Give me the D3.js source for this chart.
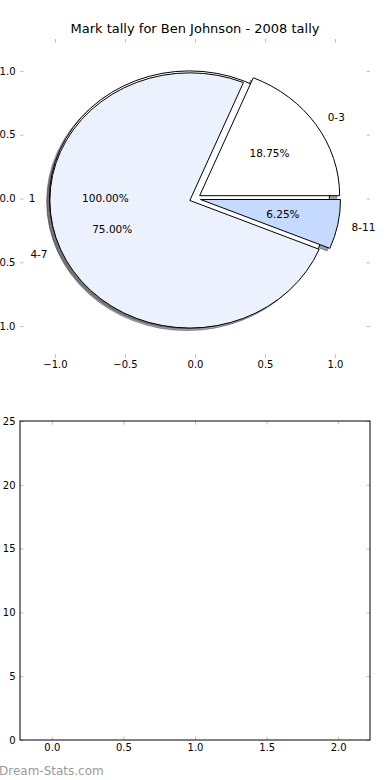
<!DOCTYPE html>
<html>
<head>
<meta charset="utf-8">
<script src="https://cdn.jsdelivr.net/npm/d3@7"></script>
<style>
  body { margin: 0; background: #fff; }
  svg { display: block; font-family: "DejaVu Sans", sans-serif; }
  .tick line { stroke: #bdbdbd; }
</style>
</head>
<body>
<script>
// pie data
var sliceLabels = ["0-3", "4-7", "8-11"];
var sliceValues = [3, 12, 1];
var sliceColors = ["#ffffff", "#ebf1fd", "#c6d9fe"];
// the single-value pie drawn underneath
var baseLabels = ["1"];
var baseValues = [1];
var baseColors = ["#ffffff"];

var pieTicks = [-1, -0.5, 0, 0.5, 1];
var barXTicks = [0, 0.5, 1, 1.5, 2];
var barYTicks = [0, 5, 10, 15, 20, 25];

var width = 390, height = 780;
var explode = 0.04, shadowOff = 0.02;

var svg = d3.select("body").append("svg")
  .attr("width", width)
  .attr("height", height);

// ---------- top: pie ----------
var x1 = d3.scaleLinear().domain([-1.25, 1.25]).range([20, 370]);
var y1 = d3.scaleLinear().domain([-1.25, 1.25]).range([358, 39]);

function ticks(g, axis) {
  g.call(axis);
  g.select(".domain").remove();
  g.selectAll("text").attr("fill", "#000").style("font-size", "10px").style("font-family", "DejaVu Sans");
}

svg.append("g").attr("transform", "translate(0,358)")
  .call(ticks, d3.axisBottom(x1).tickValues(pieTicks).tickSize(-3.5).tickPadding(3).tickFormat(d3.format(".1f")));
svg.append("g").attr("transform", "translate(0,39)")
  .call(ticks, d3.axisTop(x1).tickValues(pieTicks).tickSize(-3.5).tickFormat(""));
svg.append("g").attr("transform", "translate(20,0)")
  .call(ticks, d3.axisLeft(y1).tickValues(pieTicks).tickSize(-3.5).tickPadding(4.5).tickFormat(d3.format(".1f")));
svg.append("g").attr("transform", "translate(370,0)")
  .call(ticks, d3.axisRight(y1).tickValues(pieTicks).tickSize(-3.5).tickFormat(""));

svg.append("text")
  .attr("x", 195).attr("y", 33)
  .attr("text-anchor", "middle")
  .style("font-size", "13px")
  .text("Mark tally for Ben Johnson - 2008 tally");

// group in data units (y flipped)
var pg = svg.append("g")
  .attr("transform", "translate(" + x1(0) + "," + y1(0) + ") scale(" + (x1(1) - x1(0)) + "," + (y1(1) - y1(0)) + ")");

var pie = d3.pie().sort(null).startAngle(Math.PI / 2).endAngle(Math.PI / 2 + 2 * Math.PI);
var arc = d3.arc().innerRadius(0).outerRadius(1);

function build(values, labels, colors) {
  var total = d3.sum(values);
  return pie(values).map(function (d, i) {
    var th = (d.startAngle + d.endAngle) / 2 - Math.PI / 2;
    return {
      arc: d, label: labels[i], color: colors[i], pct: d.value / total * 100,
      th: th, cx: explode * Math.cos(th), cy: explode * Math.sin(th)
    };
  });
}

var base = build(baseValues, baseLabels, baseColors);
var slices = build(sliceValues, sliceLabels, sliceColors);
var all = base.concat(slices);

function shade(c) {
  var r = d3.rgb(c);
  return "rgba(" + Math.round(r.r * 0.3) + "," + Math.round(r.g * 0.3) + "," + Math.round(r.b * 0.3) + ",0.5)";
}

// shadows sit under every wedge
pg.selectAll("path.shadow").data(all).enter().append("path")
  .attr("class", "shadow")
  .attr("d", function (d) { return arc(d.arc); })
  .attr("transform", function (d) { return "translate(" + (d.cx - shadowOff) + "," + (d.cy - shadowOff) + ")"; })
  .attr("fill", function (d) { return shade(d.color); })
  .attr("stroke", function (d) { return shade(d.color); })
  .attr("stroke-width", 1)
  .attr("vector-effect", "non-scaling-stroke");

pg.selectAll("path.wedge").data(all).enter().append("path")
  .attr("class", "wedge")
  .attr("d", function (d) { return arc(d.arc); })
  .attr("transform", function (d) { return "translate(" + d.cx + "," + d.cy + ")"; })
  .attr("fill", function (d) { return d.color; })
  .attr("stroke", "#000")
  .attr("stroke-width", 1)
  .attr("vector-effect", "non-scaling-stroke");

// labels
all.forEach(function (d) {
  var lx = d.cx + 1.1 * Math.cos(d.th), ly = d.cy + 1.1 * Math.sin(d.th);
  svg.append("text")
    .attr("x", x1(lx)).attr("y", y1(ly))
    .attr("dy", "0.35em")
    .attr("text-anchor", lx > 0 ? "start" : "end")
    .style("font-size", "10.5px")
    .text(d.label);
  var px = d.cx + 0.6 * Math.cos(d.th), py = d.cy + 0.6 * Math.sin(d.th);
  svg.append("text")
    .attr("x", x1(px)).attr("y", y1(py))
    .attr("dy", "0.35em")
    .attr("text-anchor", "middle")
    .style("font-size", "10.5px")
    .text(d.pct.toFixed(2) + "%");
});

// ---------- bottom: empty axes ----------
var x2 = d3.scaleLinear().domain([-0.222, 2.222]).range([20, 370]);
var y2 = d3.scaleLinear().domain([0, 25]).range([740, 421]);

svg.append("g").attr("transform", "translate(0,740)")
  .call(ticks, d3.axisBottom(x2).tickValues(barXTicks).tickSize(-3.5).tickPadding(4).tickFormat(d3.format(".1f")));
svg.append("g").attr("transform", "translate(0,421)")
  .call(ticks, d3.axisTop(x2).tickValues(barXTicks).tickSize(-3.5).tickFormat(""));
svg.append("g").attr("transform", "translate(20,0)")
  .call(ticks, d3.axisLeft(y2).tickValues(barYTicks).tickSize(-3.5).tickPadding(4.5).tickFormat(d3.format("d")));
svg.append("g").attr("transform", "translate(370,0)")
  .call(ticks, d3.axisRight(y2).tickValues(barYTicks).tickSize(-3.5).tickFormat(""));

svg.append("rect")
  .attr("x", 20).attr("y", 421)
  .attr("width", 350).attr("height", 319)
  .attr("fill", "none")
  .attr("stroke", "#000")
  .attr("stroke-width", 1);

svg.append("text")
  .attr("x", -1).attr("y", 775)
  .attr("fill", "#9a9a9a")
  .style("font-size", "12px")
  .text("Dream-Stats.com");
</script>
</body>
</html>
